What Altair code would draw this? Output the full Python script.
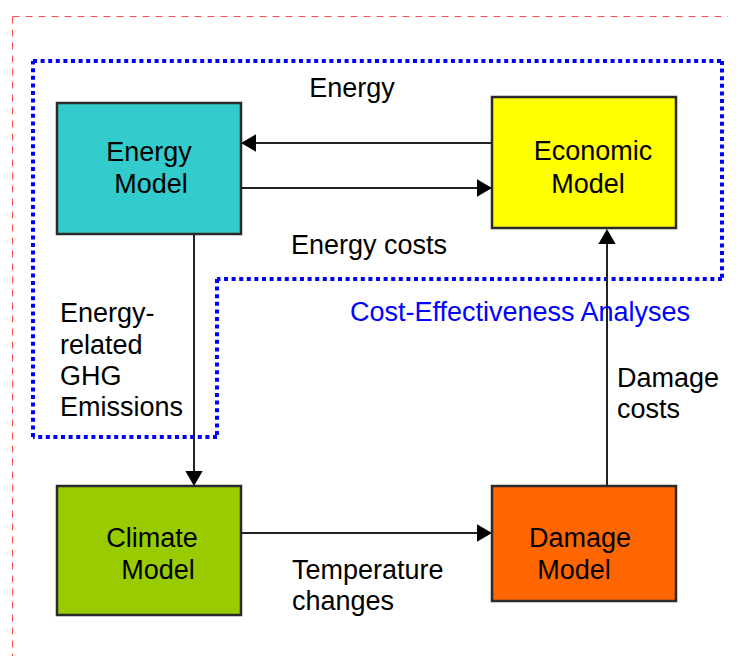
import altair as alt
import pandas as pd

# ---- boxes (screen coordinates) ----
box_names = ["Energy Model", "Economic Model", "Climate Model", "Damage Model"]
box_x1 = [57, 492, 57, 492]
box_x2 = [241, 676, 241, 676]
box_y1 = [103, 97, 486, 486]
box_y2 = [234, 228, 615, 601]
box_fill = ["#33CCCC", "#FFFF00", "#99CC00", "#FF6600"]

# ---- arrows ----
arrow_x1 = [492, 241, 194, 241, 607]
arrow_y1 = [143, 188, 234, 533, 486]
arrow_x2 = [250, 484, 194, 484, 607]
arrow_y2 = [143, 188, 478, 533, 237]
head_x = [248.5, 484.5, 194, 484.5, 607]
head_y = [143, 188, 478.5, 533, 236.5]
head_shape = ["triangle-left", "triangle-right", "triangle-down", "triangle-right", "triangle-up"]

# ---- dotted "Cost-Effectiveness" outline ----
dotted_x = [33, 722, 722, 217, 217, 33, 33]
dotted_y = [61, 61, 279, 279, 437, 437, 61]

# ---- dashed page border (left and top visible) ----
border_x1 = [12.5, 12.5]
border_y1 = [16.5, 16.5]
border_x2 = [728, 12.5]
border_y2 = [16.5, 656]

# ---- centred text lines ----
ctext = ["Energy", "Model", "Economic", "Model", "Climate", "Model", "Damage", "Model",
         "Energy", "Energy costs", "Cost-Effectiveness Analyses"]
ctext_x = [149, 151, 593, 588, 152, 158, 580, 574, 352, 369, 520]
ctext_y = [161, 193, 160, 193, 547, 579, 547, 579, 97, 254, 321]
ctext_color = ["black"] * 10 + ["#0000FF"]

# ---- left-aligned text lines ----
ltext = ["Energy-", "related", "GHG", "Emissions", "Damage", "costs", "Temperature", "changes"]
ltext_x = [60, 60, 60, 60, 617, 617, 292, 292]
ltext_y = [322, 354, 385, 416, 387, 418, 579, 610]

FONT = "Liberation Sans"
FS = 27

X = alt.Scale(domain=[8, 728])
Y = alt.Scale(domain=[8, 656], reverse=True)


def xq(f):
    return alt.X(f, type="quantitative", scale=X, axis=None)


def yq(f):
    return alt.Y(f, type="quantitative", scale=Y, axis=None)


border_df = pd.DataFrame({"x": border_x1, "y": border_y1, "x2": border_x2, "y2": border_y2})
border = alt.Chart(border_df).mark_rule(color="#FF4D4D", strokeWidth=1, strokeDash=[7, 6]).encode(
    x=xq("x"), y=yq("y"), x2="x2", y2="y2")

seg_df = pd.DataFrame({
    "x": dotted_x[:-1], "y": dotted_y[:-1], "x2": dotted_x[1:], "y2": dotted_y[1:]})
dotted = alt.Chart(seg_df).mark_rule(color="#0000FF", strokeWidth=4, strokeDash=[4, 3.6]).encode(
    x=xq("x"), y=yq("y"), x2="x2", y2="y2")

box_df = pd.DataFrame({"name": box_names, "x": box_x1, "x2": box_x2, "y": box_y1, "y2": box_y2,
                       "fill": box_fill})
boxes = alt.Chart(box_df).mark_rect(stroke="#2a2a2a", strokeWidth=2.5).encode(
    x=xq("x"), x2="x2", y=yq("y"), y2="y2", fill=alt.Fill("fill:N", scale=None))

arrow_df = pd.DataFrame({"x": arrow_x1, "y": arrow_y1, "x2": arrow_x2, "y2": arrow_y2})
arrows = alt.Chart(arrow_df).mark_rule(color="#222222", strokeWidth=2).encode(
    x=xq("x"), y=yq("y"), x2="x2", y2="y2")

head_df = pd.DataFrame({"x": head_x, "y": head_y, "shape": head_shape})
heads = alt.Chart(head_df).mark_point(filled=True, color="black", size=300, opacity=1).encode(
    x=xq("x"), y=yq("y"), shape=alt.Shape("shape:N", scale=None))

ct_df = pd.DataFrame({"t": ctext, "x": ctext_x, "y": ctext_y, "c": ctext_color})
ctexts = alt.Chart(ct_df).mark_text(align="center", baseline="alphabetic", font=FONT, fontSize=FS).encode(
    x=xq("x"), y=yq("y"), text="t:N", color=alt.Color("c:N", scale=None))

lt_df = pd.DataFrame({"t": ltext, "x": ltext_x, "y": ltext_y})
ltexts = alt.Chart(lt_df).mark_text(align="left", baseline="alphabetic", font=FONT, fontSize=FS,
                                    color="black").encode(
    x=xq("x"), y=yq("y"), text="t:N")

chart = alt.layer(border, dotted, arrows, boxes, heads, ctexts, ltexts).properties(
    width=720, height=648, padding=0, autosize="none", background="white"
).configure_view(stroke=None)

chart.save("out.html", embed_options={"renderer": "svg", "actions": False})
